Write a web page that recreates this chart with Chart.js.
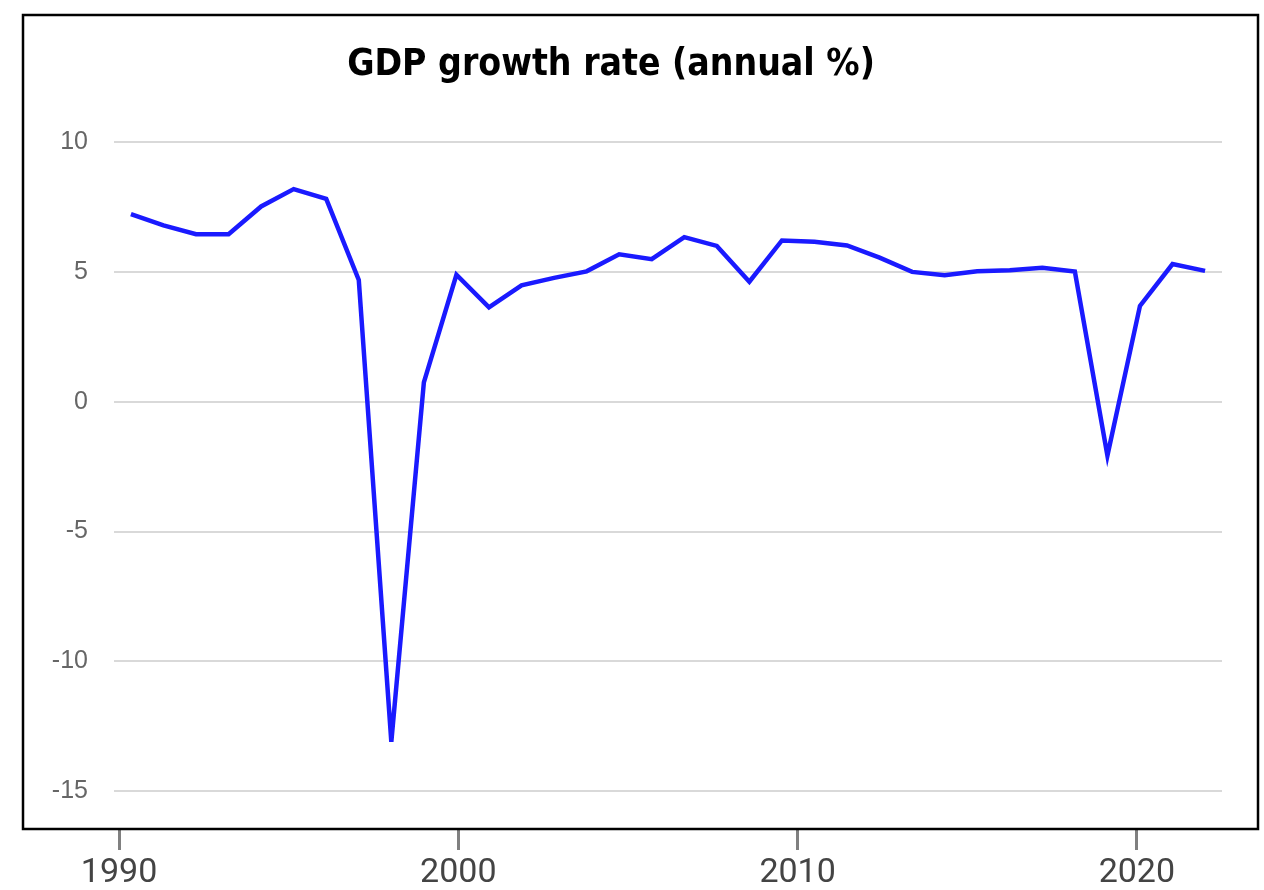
<!DOCTYPE html>
<html>
<head>
<meta charset="utf-8">
<script src="https://cdn.jsdelivr.net/npm/chart.js@4/dist/chart.umd.min.js"></script>
<style>
  html, body { margin: 0; padding: 0; background: #fff; }
  #wrap { width: 1264px; height: 890px; }
</style>
</head>
<body>
<div id="wrap"><canvas id="gdp-chart" width="1264" height="890"></canvas></div>
<script>
// data
const years = [1990, 1991, 1992, 1993, 1994, 1995, 1996, 1997, 1998, 1999,
               2000, 2001, 2002, 2003, 2004, 2005, 2006, 2007, 2008, 2009,
               2010, 2011, 2012, 2013, 2014, 2015, 2016, 2017, 2018, 2019,
               2020, 2021, 2022, 2023];
const growth = [7.24, 6.8, 6.46, 6.46, 7.53, 8.2, 7.82, 4.7, -13.1, 0.75,
                4.9, 3.64, 4.49, 4.78, 5.03, 5.69, 5.5, 6.35, 6.01, 4.63,
                6.22, 6.17, 6.03, 5.56, 5.01, 4.88, 5.03, 5.07, 5.17, 5.02,
                -2.07, 3.7, 5.31, 5.05];
const yearTicks = [1990, 2000, 2010, 2020];
const rateTicks = [10, 5, 0, -5, -10, -15];

const points = years.map((y, i) => ({ x: y, y: growth[i] }));

// black frame round the plot, the year axis hangs below it
const framePlugin = {
    id: 'frame',
    afterDraw(chart) {
        const ctx = chart.ctx;
        ctx.save();
        ctx.strokeStyle = '#000';
        ctx.lineWidth = 2.5;
        ctx.strokeRect(23, 15, 1235, 814);
        ctx.restore();
    }
};

new Chart(document.getElementById('gdp-chart'), {
    type: 'line',
    data: {
        datasets: [{
            label: 'GDP growth',
            data: points,
            borderColor: '#1a1aff',
            borderWidth: 4.5,
            pointRadius: 0,
            tension: 0,
            xAxisID: 'x',
            yAxisID: 'y'
        }]
    },
    options: {
        responsive: false,
        animation: false,
        layout: { padding: { left: 0, right: 42, top: 0, bottom: 0 } },
        plugins: {
            legend: { display: false },
            tooltip: { enabled: false },
            title: {
                display: true,
                text: 'GDP growth rate (annual %)',
                color: '#000',
                font: { family: "'Liberation Sans Narrow', 'DejaVu Sans Condensed', 'DejaVu Sans'", size: 37, weight: 'bold' },
                padding: { top: 43, bottom: 55 }
            }
        },
        scales: {
            x: {
                type: 'linear',
                display: false,
                min: 1989.48,
                max: 2023.52
            },
            x2: {
                type: 'linear',
                position: 'bottom',
                min: 1989.85,
                max: 2022.51,
                afterBuildTicks: scale => {
                    scale.ticks = yearTicks.map(v => ({ value: v }));
                },
                afterFit: scale => { scale.height = 60; },
                border: { display: false },
                grid: {
                    drawOnChartArea: false,
                    drawTicks: true,
                    tickLength: 20,
                    tickWidth: 3,
                    tickColor: '#808080'
                },
                ticks: {
                    color: '#444',
                    padding: 3,
                    maxRotation: 0,
                    font: { family: 'Roboto', size: 34 },
                    callback: v => String(v)
                }
            },
            y: {
                min: -16.5,
                max: 10,
                afterBuildTicks: scale => {
                    scale.ticks = rateTicks.map(v => ({ value: v }));
                },
                afterFit: scale => { scale.width = 114; },
                border: { display: false },
                grid: {
                    color: '#d9d9d9',
                    lineWidth: 2,
                    drawTicks: false
                },
                ticks: {
                    color: '#666',
                    padding: 26,
                    font: { family: "'Liberation Sans', Arial", size: 25 }
                }
            }
        }
    },
    plugins: [framePlugin]
});
</script>
</body>
</html>
